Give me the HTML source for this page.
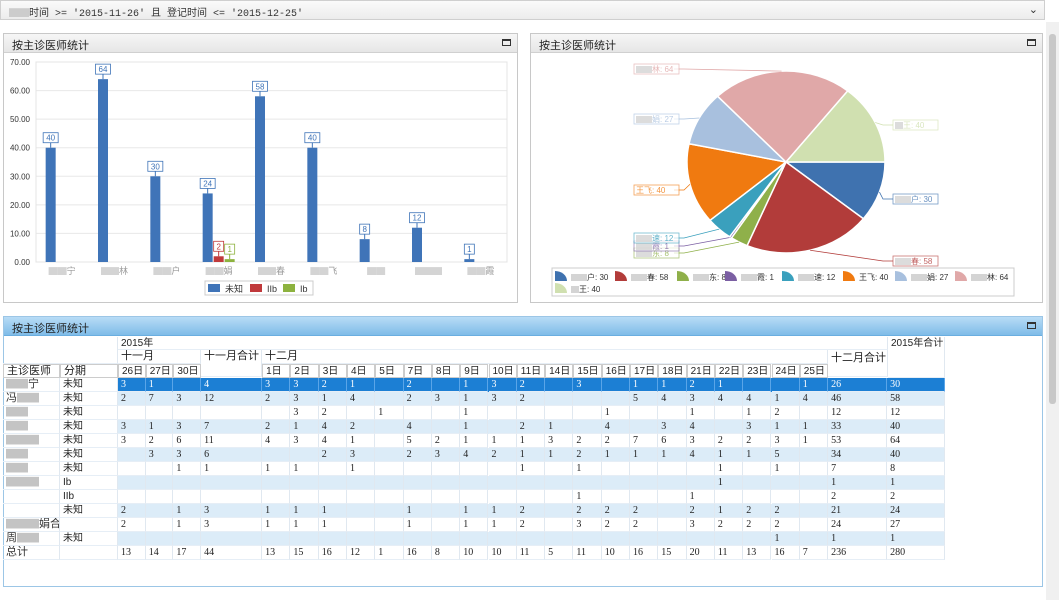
<!DOCTYPE html>
<html><head><meta charset="utf-8">
<style>
*{box-sizing:border-box;margin:0;padding:0}
body{width:1059px;height:600px;overflow:hidden;background:#fff;font-family:"Liberation Sans","Noto Sans CJK SC",sans-serif;position:relative}
.abs{position:absolute}
.panel{position:absolute;border:1px solid #c8c8c8;background:#fff}
.phead{position:absolute;left:0;right:0;top:0;height:19px;background:linear-gradient(#f6f6f6,#e6e6e6);border-bottom:1px solid #d0d0d0;font-size:11px;padding:3px 0 0 8px;color:#222}
.maxbtn{position:absolute;right:6px;top:5px;width:9px;height:7px;border:1px solid #333;border-top-width:2px}
.cell{position:absolute;font-family:"Liberation Serif","Noto Sans CJK SC",serif;font-size:10px;padding-left:3px;line-height:13px;color:#222;border-right:1px solid #e0e8f0;border-bottom:1px solid #e6eef6;overflow:hidden;white-space:nowrap}
.hd{font-family:"Liberation Sans","Noto Sans CJK SC",sans-serif;font-size:10px}
.blur{color:#c4c4c4}
</style></head><body>
<div class="abs" style="left:0;top:0;width:1045px;height:20px;background:linear-gradient(#fafafa,#ececec);border:1px solid #cfcfcf;font-family:'Liberation Mono','Noto Sans CJK SC',monospace;font-size:10px;padding:3px 0 0 8px;color:#333">
<span style="color:#ccc">▇▇</span>时间 &gt;= '2015-11-26' 且 登记时间 &lt;= '2015-12-25'
<span style="position:absolute;right:6px;top:2px;font-family:'DejaVu Sans';font-size:11px">⌄</span></div>
<div class="abs" style="left:1046px;top:22px;width:13px;height:578px;background:#f0f0f0"><div style="position:absolute;left:3px;top:12px;width:7px;height:370px;background:#c8c8c8;border-radius:3px"></div></div>

<div class="panel" style="left:3px;top:33px;width:515px;height:270px">
<div class="phead">按主诊医师统计</div><div class="maxbtn"></div></div>
<div class="panel" style="left:530px;top:33px;width:513px;height:270px">
<div class="phead">按主诊医师统计</div><div class="maxbtn"></div></div>
<div class="panel" style="left:3px;top:316px;width:1040px;height:271px;border-color:#9cc6e6">
<div class="phead" style="background:linear-gradient(#b8dcf6,#7fbce8);border-bottom-color:#6aaee0">按主诊医师统计</div><div class="maxbtn"></div></div>

<svg id="charts" class="abs" style="left:0;top:0" width="1059" height="600" font-family="Liberation Sans, Noto Sans CJK SC, sans-serif"></svg>
<div id="table" class="abs" style="left:0;top:0;width:1059px;height:600px"></div>

<script>
const barCats=['▇▇宁','▇▇林','▇▇户','▇▇娟','▇▇春','▇▇飞','▇▇','▇▇▇','▇▇霞'];
const seriesNames=['未知','IIb','Ib'];
const serUnknown=[40,64,30,24,58,40,8,12,1];
const serIIb=[0,0,0,2,0,0,0,0,0];
const serIb=[0,0,0,1,0,0,0,0,0];
const yTicks=[0,10,20,30,40,50,60,70];
const pieLabels=['▇▇户','▇▇春','▇▇东','▇▇霞','▇▇速','王飞','▇▇娟','▇▇林','▇王'];
const pieValues=[30,58,8,1,12,40,27,64,40];

const NS='http://www.w3.org/2000/svg';
const svg=document.getElementById('charts');
function mk(t,a,p){const e=document.createElementNS(NS,t);for(const k in a)e.setAttribute(k,a[k]);(p||svg).appendChild(e);return e;}
function setTxt(el,txt){const parts=txt.match(/▇+|[^▇]+/g)||[];parts.forEach(p=>{const s=mk('tspan',p[0]=='▇'?{fill:'#d4d4d4'}:{},el);s.textContent=p;});}
const X0=36,X1=507,Y0=262,Y1=62,YMAX=70;
const ys=v=>Y0-(v/YMAX)*(Y0-Y1);
const band=(X1-X0)/barCats.length;
const bw=11;
const colors=['#3f74b8','#c0393b','#8db23f'];
const series=[serUnknown,serIIb,serIb];
yTicks.forEach(t=>{
 const g=mk('line',{x1:X0,x2:X1,y1:ys(t),y2:ys(t),stroke:t==0?'#9ab':'#e8e8e8'});
 
 const tx=mk('text',{x:X0-6,y:ys(t)+3,'text-anchor':'end','font-size':8,fill:'#333'});tx.textContent=t.toFixed(2);
 
});
mk('line',{x1:X0,x2:X0,y1:Y1,y2:Y0,stroke:'#9ab'});
mk('rect',{x:X0,y:Y1,width:X1-X0,height:Y0-Y1,fill:'none',stroke:'#e4e4e4'});
barCats.forEach((c,i)=>{
 const start=X0+i*band+(band-3*bw)/2;
 series.forEach((s,j)=>{
  const v=s[i]; if(!v)return;
  const x=start+j*bw;
  const r=mk('rect',{x:x,y:ys(v),width:bw-1,height:Y0-ys(v),fill:colors[j]});
  
  const cx=x+(bw-1)/2;
  mk('line',{x1:cx,x2:cx,y1:ys(v),y2:ys(v)-5,stroke:colors[j]});
  const w=String(v).length*5+5;
  mk('rect',{x:cx-w/2,y:ys(v)-15,width:w,height:10,fill:'#fff',stroke:colors[j],'stroke-width':0.8});
  const t=mk('text',{x:cx,y:ys(v)-7,'text-anchor':'middle','font-size':8,fill:colors[j]});t.textContent=v;
  
 });
 const l=mk('text',{x:X0+i*band+band/2,y:274,'text-anchor':'middle','font-size':9,fill:'#999'});setTxt(l,c);
 
});
const lg=mk('g',{});
mk('rect',{x:205,y:281,width:108,height:14,fill:'#fff',stroke:'#ccc'},lg);
[[208,0],[250,1],[283,2]].forEach(([x,j])=>{mk('rect',{x:x,y:284,width:12,height:8,fill:colors[j]},lg);const t=mk('text',{x:x+17,y:292,'font-size':9,fill:'#333'},lg);t.textContent=seriesNames[j];});

const pc=['#3f72af','#b23c3a','#8fb04a','#7b5fa3','#3aa0bd','#f07a10','#a8c0de','#e0a8a8','#d0e0b0'];
const PX=786,PY=162,RX=99,RY=91;
const tot=pieValues.reduce((a,b)=>a+b,0);
let ang=0;
const labelPos=[[893,194],[893,256],[634,248],[634,241],[634,233],[634,185],[634,114],[634,64],[893,120]];
pieValues.forEach((v,i)=>{
 const a0=ang,a1=ang+v/tot*2*Math.PI;ang=a1;
 const p=(a)=>[PX+RX*Math.cos(a),PY+RY*Math.sin(a)];
 const [x0,y0]=p(a0),[x1,y1]=p(a1);
 const s=mk('path',{d:`M${PX},${PY}L${x0},${y0}A${RX},${RY} 0 ${a1-a0>Math.PI?1:0} 1 ${x1},${y1}Z`,fill:pc[i],stroke:'#fff','stroke-width':1.5});
 
 const am=(a0+a1)/2,[mx,my]=p(am);
 const [lx,ly]=labelPos[i];
 const right=lx>PX;
 mk('polyline',{points:`${mx},${my} ${right?lx-10:lx+50},${ly+5} ${right?lx:lx+40},${ly+5}`,fill:'none',stroke:pc[i],'stroke-width':0.8});
 mk('rect',{x:lx,y:ly,width:45,height:10,fill:'#fff',stroke:pc[i],'stroke-width':0.8,opacity:0.7});
 const t=mk('text',{x:lx+2,y:ly+8,'font-size':8,fill:pc[i],opacity:0.8});setTxt(t,pieLabels[i]+': '+v);
 
});
const pl=mk('g',{});
mk('rect',{x:552,y:268,width:462,height:28,fill:'#fff',stroke:'#ccc'},pl);
const lgx=[555,615,677,725,782,843,895,955,555],lgy=[271,271,271,271,271,271,271,271,283];
pieValues.forEach((v,i)=>{
 mk('path',{d:`M${lgx[i]},${lgy[i]+10}V${lgy[i]}A12,10 0 0 1 ${lgx[i]+12},${lgy[i]+10}Z`,fill:pc[i]},pl);
 const t=mk('text',{x:lgx[i]+16,y:lgy[i]+9,'font-size':8,fill:'#333'},pl);setTxt(t,pieLabels[i]+': '+v);
});

const dayHeads=['26日','27日','30日','十一月合计','1日','2日','3日','4日','5日','7日','8日','9日','10日','11日','14日','15日','16日','17日','18日','21日','22日','23日','24日','25日','十二月合计','2015年合计'];
const rowDoctors=['▇▇宁','冯▇▇','▇▇','▇▇','▇▇▇','▇▇','▇▇','▇▇▇','','','▇▇▇娟合计','周▇▇','总计'];
const rowStage=['未知','未知','未知','未知','未知','未知','未知','Ib','IIb','未知','','未知',''];
const tableRows=[
'3,1,,4,3,3,2,1,,2,,1,3,2,,3,,1,1,2,1,,,1,26,30',
'2,7,3,12,2,3,1,4,,2,3,1,3,2,,,,5,4,3,4,4,1,4,46,58',
',,,,,3,2,,1,,,1,,,,,1,,,1,,1,2,,12,12',
'3,1,3,7,2,1,4,2,,4,,1,,2,1,,4,,3,4,,3,1,1,33,40',
'3,2,6,11,4,3,4,1,,5,2,1,1,1,3,2,2,7,6,3,2,2,3,1,53,64',
',3,3,6,,,2,3,,2,3,4,2,1,1,2,1,1,1,4,1,1,5,,34,40',
',,1,1,1,1,,1,,,,,,1,,1,,,,,1,,1,,7,8',
',,,,,,,,,,,,,,,,,,,,1,,,,1,1',
',,,,,,,,,,,,,,,1,,,,1,,,,,2,2',
'2,,1,3,1,1,1,,,1,,1,1,2,,2,2,2,,2,1,2,2,,21,24',
'2,,1,3,1,1,1,,,1,,1,1,2,,3,2,2,,3,2,2,2,,24,27',
',,,,,,,,,,,,,,,,,,,,,,1,,1,1',
'13,14,17,44,13,15,16,12,1,16,8,10,10,11,5,11,10,16,15,20,11,13,16,7,236,280'];
const tb=document.getElementById('table');
const colX=[];{let x=118;for(let i=0;i<26;i++){colX.push(x);x+= i<3?27.7:(i==3?61:(i<24?28.3:(i==24?59:58)));}colX.push(945);}
function cell(x,y,w,h,txt,cls,style,name){const d=document.createElement('div');d.className='cell '+(cls||'');d.style.cssText=`left:${x}px;top:${y}px;width:${w}px;height:${h}px;`+(style||'');
 (txt.match(/▇+|[^▇]+/g)||[]).forEach(p=>{const s=document.createElement('span');if(p[0]=='▇')s.className='blur';s.textContent=p;d.appendChild(s);});
 tb.appendChild(d);return d;}
const T0=337,RH=14;
cell(3,T0,115,27,'','hd');
cell(118,T0,770,13,'2015年','hd','','header-year');
cell(888,T0,57,41,'2015年合计','hd','','header-year-total');
cell(118,T0+13,83,14,'十一月','hd','font-size:11px','header-nov');
cell(201,T0+13,61,27,'十一月合计','hd','font-size:11px','header-nov-total');
cell(262,T0+13,566,14,'十二月','hd','font-size:11px','header-dec');
cell(828,T0+13,60,27,'十二月合计','hd','font-size:11px;padding-top:2px','header-dec-total');
cell(3,T0+27,57,14,'主诊医师','hd','border:1px solid #ccc;font-size:11px','header-doctor');
cell(60,T0+27,58,14,'分期','hd','border:1px solid #ccc;font-size:11px','header-stage');
dayHeads.forEach((h,i)=>{if(i==3||i>=24)return;cell(colX[i],T0+27,colX[i+1]-colX[i],14,h,'hd','border:1px solid #ccc','header-day');});
tableRows.forEach((r,ri)=>{
 const y=T0+41+ri*RH;const vals=r.split(',');
 const bg=ri==0?'#1c7fd4':(ri%2==1?'#dcecf8':'#fff');
 const fg=ri==0?'#fff':'#222';
 const row=document.createElement('div');row.className='abs';row.style.cssText=`left:118px;top:${y}px;width:827px;height:${RH}px;background:${bg}`;
 tb.appendChild(row);
 cell(3,y,57,RH,rowDoctors[ri],'hd','color:#333;font-size:11px','doctor-name');
 cell(60,y,58,RH,rowStage[ri],'hd','font-size:10px','stage');
 vals.forEach((v,ci)=>cell(colX[ci],y,colX[ci+1]-colX[ci],RH,v,'',`color:${fg};`+(ri==0?'border-right-color:#5aa5e8':''),'value-cell'));
});
</script>
</body></html>
